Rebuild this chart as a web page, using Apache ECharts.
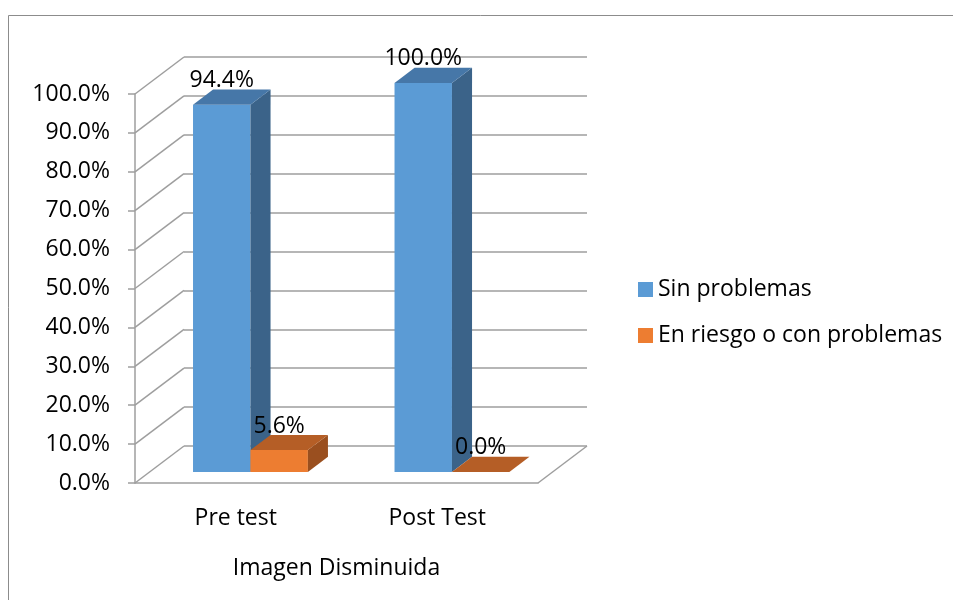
<!DOCTYPE html>
<html lang="es">
  <head>
    <meta charset="UTF-8" />
    <title>Imagen Disminuida</title>
    <script src="https://cdn.jsdelivr.net/npm/echarts@6/dist/echarts.min.js"></script>
    <style>
      html, body { margin: 0; padding: 0; background: #fff; }
    </style>
  </head>

  <body>
    <div id="chart" style="width: 953px; height: 600px;"></div>
  </body>
  <script>
    // datos
    const categories = ['Pre test', 'Post Test']
    const groupLabel = ['Imagen Disminuida']
    const sinProblemas = [0.944, 1.0]
    const enRiesgo = [0.056, 0.0]
    const yTicks = [0, 0.1, 0.2, 0.3, 0.4, 0.5, 0.6, 0.7, 0.8, 0.9, 1.0]

    const FONT = '"Open Sans", "Liberation Sans", sans-serif'
    const GRID_COLOR = '#9e9e9e'
    // desplazamiento de la pared de fondo (pseudo 3D)
    const DEPTH = [49, -37]
    const BAR_FRONT = 0.3   // fracción de profundidad donde empieza la barra
    const BAR_DEPTH = 0.41  // profundidad de la barra
    const BAR_WIDTH = 0.285 // ancho de cada barra respecto a la categoría

    const colors = {
      blue: { front: '#5b9bd5', top: '#4677a8', side: '#3b6389' },
      orange: { front: '#ed7d31', top: '#b55e26', side: '#9a4f1f' }
    }

    function makeBarRenderer(col, slot) {
      return function (params, api) {
        const idx = api.value(0)
        const val = api.value(1)
        const band = api.size([1, 0])[0]
        const top = api.coord([idx, val])
        const base = api.coord([idx, 0])
        const bw = band * BAR_WIDTH
        const fx = DEPTH[0] * BAR_FRONT, fy = DEPTH[1] * BAR_FRONT
        const tx = DEPTH[0] * BAR_DEPTH, ty = DEPTH[1] * BAR_DEPTH
        const x0 = top[0] + (slot - 1) * bw + fx
        const x1 = x0 + bw
        const yt = top[1] + fy
        const yb = base[1] + fy
        return {
          type: 'group',
          children: [
            {
              type: 'rect',
              shape: { x: x0, y: yt, width: bw, height: yb - yt },
              style: { fill: col.front }
            },
            {
              type: 'polygon',
              shape: { points: [[x1, yt], [x1 + tx, yt + ty], [x1 + tx, yb + ty], [x1, yb]] },
              style: { fill: col.side }
            },
            {
              type: 'polygon',
              shape: { points: [[x0, yt], [x1, yt], [x1 + tx, yt + ty], [x0 + tx, yt + ty]] },
              style: { fill: col.top }
            },
            {
              type: 'text',
              z2: 10,
              style: {
                text: (val * 100).toFixed(1) + '%',
                x: x0 + bw / 2,
                y: yt - 24,
                align: 'center',
                verticalAlign: 'middle',
                fontSize: 23,
                fontFamily: FONT,
                fill: '#000'
              }
            }
          ]
        }
      }
    }

    // líneas diagonales de la pared lateral y el suelo
    function renderWall(params, api) {
      const v = api.value(1)
      const cs = params.coordSys
      const y = api.coord([0, v])[1]
      const style = { stroke: GRID_COLOR, lineWidth: 1.5 }
      const children = [
        { type: 'line', shape: { x1: cs.x, y1: y, x2: cs.x + DEPTH[0], y2: y + DEPTH[1] }, style }
      ]
      if (v === 0) {
        const xr = cs.x + cs.width
        children.push({ type: 'line', shape: { x1: xr, y1: y, x2: xr + DEPTH[0], y2: y + DEPTH[1] }, style })
      }
      return { type: 'group', children }
    }

    const chart = echarts.init(document.getElementById('chart'))
    const option = {
      animation: false,
      backgroundColor: '#fff',
      textStyle: { fontFamily: FONT },
      graphic: [
        {
          type: 'polyline',
          shape: { points: [[8.5, 600], [8.5, 15.5], [953, 15.5]] },
          style: { stroke: '#8c8c8c', lineWidth: 1, fill: null }
        }
      ],
      legend: {
        orient: 'vertical',
        left: 633,
        top: 273,
        icon: 'rect',
        itemWidth: 15,
        itemHeight: 15,
        itemGap: 23,
        textStyle: { fontSize: 23, lineHeight: 23, color: '#000', fontFamily: FONT },
        data: ['Sin problemas', 'En riesgo o con problemas']
      },
      grid: [
        { left: 135, right: 415, top: 94, bottom: 117 },
        { left: 135 + DEPTH[0], right: 415 - DEPTH[0], top: 94 + DEPTH[1], bottom: 117 - DEPTH[1] }
      ],
      xAxis: [
        {
          type: 'category',
          gridIndex: 0,
          data: categories,
          axisLine: { lineStyle: { color: GRID_COLOR, width: 1.5 } },
          axisTick: { length: 50, lineStyle: { color: GRID_COLOR, width: 1.5 } },
          axisLabel: { fontSize: 23, lineHeight: 23, color: '#000', margin: 24, fontFamily: FONT }
        },
        {
          type: 'category',
          gridIndex: 0,
          position: 'bottom',
          data: groupLabel,
          axisLine: { show: false },
          axisTick: { length: 102, lineStyle: { color: GRID_COLOR, width: 1.5 } },
          axisLabel: { fontSize: 23, lineHeight: 23, color: '#000', margin: 74, fontFamily: FONT }
        },
        { type: 'category', gridIndex: 1, data: categories, show: false }
      ],
      yAxis: [
        {
          type: 'value',
          gridIndex: 0,
          min: 0,
          max: 1,
          interval: 0.1,
          axisLine: { show: true, lineStyle: { color: GRID_COLOR, width: 1.5 } },
          axisTick: { show: true, length: 7, lineStyle: { color: GRID_COLOR, width: 1.5 } },
          splitLine: { show: false },
          axisLabel: {
            fontSize: 23,
            color: '#000',
            margin: 25,
            padding: [6, 0, 0, 0],
            fontFamily: FONT,
            formatter: v => (v * 100).toFixed(1) + '%'
          }
        },
        {
          type: 'value',
          gridIndex: 1,
          min: 0,
          max: 1,
          interval: 0.1,
          axisLine: { show: false },
          axisTick: { show: false },
          axisLabel: { show: false },
          splitLine: { show: true, lineStyle: { color: GRID_COLOR, width: 1.5 } }
        }
      ],
      series: [
        {
          type: 'custom',
          name: 'wall',
          xAxisIndex: 0,
          yAxisIndex: 0,
          z: 1,
          silent: true,
          renderItem: renderWall,
          data: yTicks.map(v => [0, v])
        },
        {
          type: 'custom',
          name: 'Sin problemas',
          xAxisIndex: 0,
          yAxisIndex: 0,
          z: 3,
          itemStyle: { color: colors.blue.front },
          renderItem: makeBarRenderer(colors.blue, 0),
          data: sinProblemas.map((v, i) => [i, v])
        },
        {
          type: 'custom',
          name: 'En riesgo o con problemas',
          xAxisIndex: 0,
          yAxisIndex: 0,
          z: 4,
          itemStyle: { color: colors.orange.front },
          renderItem: makeBarRenderer(colors.orange, 1),
          data: enRiesgo.map((v, i) => [i, v])
        }
      ]
    }
    chart.setOption(option)
  </script>
</html>
